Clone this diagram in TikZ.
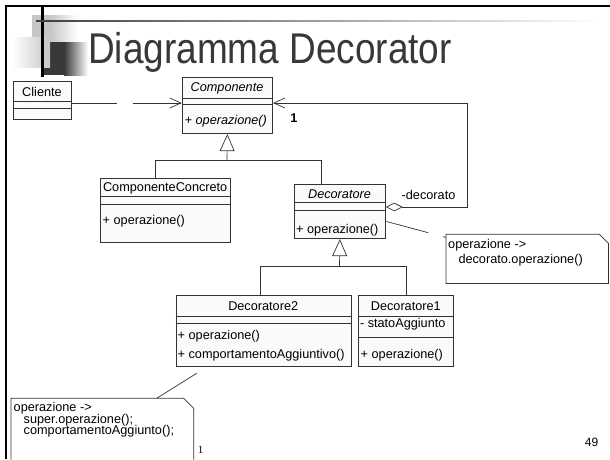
\documentclass[tikz,border=0pt]{standalone}
\usepackage{fontspec}
\setmainfont{Liberation Sans}
\newfontfamily\serifone{Liberation Serif}
\usetikzlibrary{arrows.meta,calc}
\tikzset{
 classbox/.style={draw=black!80, fill=gray!4, line width=0.8pt, inner sep=0pt, anchor=north west},
 umltext/.style={font=\fontsize{12.7}{14}\selectfont, inner sep=0pt, text=black},
 itext/.style={inner sep=0pt, text=black, font=\fontsize{12.7}{14}\selectfont\itshape},
 conn/.style={draw=black!80, line width=0.7pt},
 assoc/.style={conn, -{Straight Barb[length=11pt,width=10pt,line width=0.7pt]}},
 aggassoc/.style={conn, {Diamond[open,fill=white,length=17pt,width=8.5pt,line width=0.7pt]}-{Straight Barb[length=11pt,width=10pt,line width=0.7pt]}},
 genarrow/.style={conn, -{Triangle[open,fill=white,length=17pt,width=15pt,line width=0.7pt]}},
 notebox/.style={draw=black!80, fill=white, line width=0.8pt},
 noteframe/.style={inner sep=0pt, anchor=north west},
 comp/.style={draw=black!80, line width=0.8pt},
}
\begin{document}
\begin{tikzpicture}[x=1pt,y=-1pt]
\useasboundingbox (0,0) rectangle (610,459);
\fill[white] (0,0) rectangle (610,459);

% title decorations
\fill[gray!45] (32,15) rectangle (50,45);
\shade[left color=gray!45,right color=white] (50,15) rectangle (78,45);
\fill[black!78] (41,42) rectangle (64,75);
\shade[left color=black!78,right color=white] (64,42) rectangle (88,75);
\shade[left color=white,right color=gray!45] (12,37) rectangle (50,67);
\draw[line width=2.5pt] (42.7,6) -- (42.7,77);
\shade[left color=black!75,right color=white] (36,20) rectangle (600,21.7);
\draw[line width=2.5pt] (4.5,6) -- (610,6);
\draw[line width=2.8pt] (6,4.5) -- (6,459);

\node[anchor=base west, inner sep=0pt, text=black!78, font=\fontsize{43}{48}\selectfont] (title) at (88,63) {\scalebox{0.86}[1]{Diagramma Decorator}};

% Cliente
\node[classbox, minimum width=58pt, minimum height=38pt] (cliente) at (13,81) {};
\node[umltext] (clienteN) at (42,91.5) {Cliente};
\draw[comp] (13,101.5) -- (71,101.5);
\draw[comp] (13,108.5) -- (71,108.5);

% Componente
\node[classbox, minimum width=90.6pt, minimum height=56pt] (componente) at (181.7,77.3) {};
\node[itext] (componenteN) at (227,88) {Componente};
\draw[comp] (181.7,98.3) -- (272.3,98.3);
\draw[comp] (181.7,104.3) -- (272.3,104.3);
\node[itext, anchor=west] (componenteOp) at (184.5,121.5) {+ operazione()};

% ComponenteConcreto
\node[classbox, minimum width=129.7pt, minimum height=64.3pt] (compconc) at (100.3,177.7) {};
\node[umltext] (compconcN) at (165.2,188.3) {ComponenteConcreto};
\draw[comp] (100.3,196.7) -- (230,196.7);
\draw[comp] (100.3,204.3) -- (230,204.3);
\node[umltext, anchor=west] (compconcOp) at (102.5,221.7) {+ operazione()};

% Decoratore
\node[classbox, minimum width=91pt, minimum height=54.3pt] (decoratore) at (294,184) {};
\node[itext] (decoratoreN) at (339.5,194.5) {Decoratore};
\draw[comp] (294,202.7) -- (385,202.7);
\draw[comp] (294,210) -- (385,210);
\node[umltext, anchor=west] (decoratoreOp) at (296,230) {+ operazione()};

% Decoratore2
\node[classbox, minimum width=175pt, minimum height=70.7pt] (dec2) at (175.7,295) {};
\node[umltext] (dec2N) at (263.2,306) {Decoratore2};
\draw[comp] (175.7,316) -- (350.7,316);
\draw[comp] (175.7,323.3) -- (350.7,323.3);
\node[umltext, anchor=west] (dec2Op1) at (177.5,336.7) {+ operazione()};
\node[umltext, anchor=west] (dec2Op2) at (177.5,355) {+ comportamentoAggiuntivo()};

% Decoratore1
\node[classbox, minimum width=95pt, minimum height=70.7pt] (dec1) at (358.3,295) {};
\node[umltext] (dec1N) at (405.8,306) {Decoratore1};
\draw[comp] (358.3,316) -- (453.3,316);
\node[umltext, anchor=west] (dec1Attr) at (359.8,324) {- statoAggiunto};
\draw[comp] (358.3,337.3) -- (453.3,337.3);
\node[umltext, anchor=west] (dec1Op) at (360.5,355) {+ operazione()};

% Cliente -> Componente
\coordinate (gapA) at (117,103);
\coordinate (gapB) at (133,103);
\draw[conn] (cliente.east |- gapA) -- (gapA);
\draw[assoc] (gapB) -- (componente.west |- gapB);

% aggregation Decoratore -> Componente
\coordinate (loopR) at (467.5,207);
\draw[aggassoc] (decoratore.east |- loopR) -- (loopR) -- (loopR |- gapA) -- (componente.east |- gapA);
\node[umltext, font=\fontsize{12.7}{14}\selectfont\bfseries] (mult) at (294,118) {1};
\node[umltext, anchor=west] (rolename) at (401.5,195) {-decorato};

% generalization 1
\coordinate (g1) at (227,160.7);
\coordinate (g1l) at (155.3,160.7);
\coordinate (g1r) at (321,160.7);
\draw[genarrow] (g1) -- (componente.south);
\draw[conn] (compconc.north -| g1l) -- (g1l) -- (g1r) -- (decoratore.north -| g1r);

% generalization 2
\coordinate (g2) at (339.5,266.7);
\coordinate (g2l) at (260.7,266.7);
\coordinate (g2r) at (406.7,266.7);
\draw[genarrow] (g2) -- (decoratore.south);
\draw[conn] (dec2.north -| g2l) -- (g2l) -- (g2r) -- (dec1.north -| g2r);

% note 1
\node[noteframe, minimum width=162pt, minimum height=48.7pt] (note1) at (446,234.3) {};
\draw[notebox] (note1.north west) -- ([xshift=-9pt]note1.north east) -- ([yshift=-9pt]note1.north east) -- (note1.south east) -- (note1.south west) -- cycle;
\node[umltext, anchor=west] (note1a) at (448,245.5) {operazione ->};
\node[umltext, anchor=west] (note1b) at (458.3,260) {decorato.operazione()};
\coordinate (n1a) at (386.5,221.5);
\coordinate (n1b) at (428.3,232.7);
\coordinate (n1c) at (443,236.6);
\coordinate (n1d) at (446,237.4);
\draw[conn] (n1a) -- (n1b);
\draw[conn] (n1c) -- (n1d);

% note 2
\node[noteframe, minimum width=182.3pt, minimum height=61pt] (note2) at (11,398.3) {};
\filldraw[notebox] (note2.south west) -- (note2.north west) -- ([xshift=-10pt]note2.north east) -- ([yshift=-10pt]note2.north east) -- (note2.south east);
\node[umltext, anchor=west] (note2a) at (13.5,408.3) {operazione ->};
\node[umltext, anchor=west] (note2b) at (23.5,420) {super.operazione();};
\node[umltext, anchor=west] (note2c) at (23.5,431.5) {comportamentoAggiunto();};
\coordinate (n2a) at (196.7,373.3);
\coordinate (n2b) at (156.7,398.3);
\draw[conn] (n2a) -- (n2b);

% footer
\node[inner sep=0pt, font=\serifone\fontsize{11}{13}\selectfont] (foot1) at (200.5,449.5) {1};
\node[inner sep=0pt, font=\fontsize{12}{14}\selectfont] (pagenum) at (591.5,442.5) {49};
\end{tikzpicture}
\end{document}
